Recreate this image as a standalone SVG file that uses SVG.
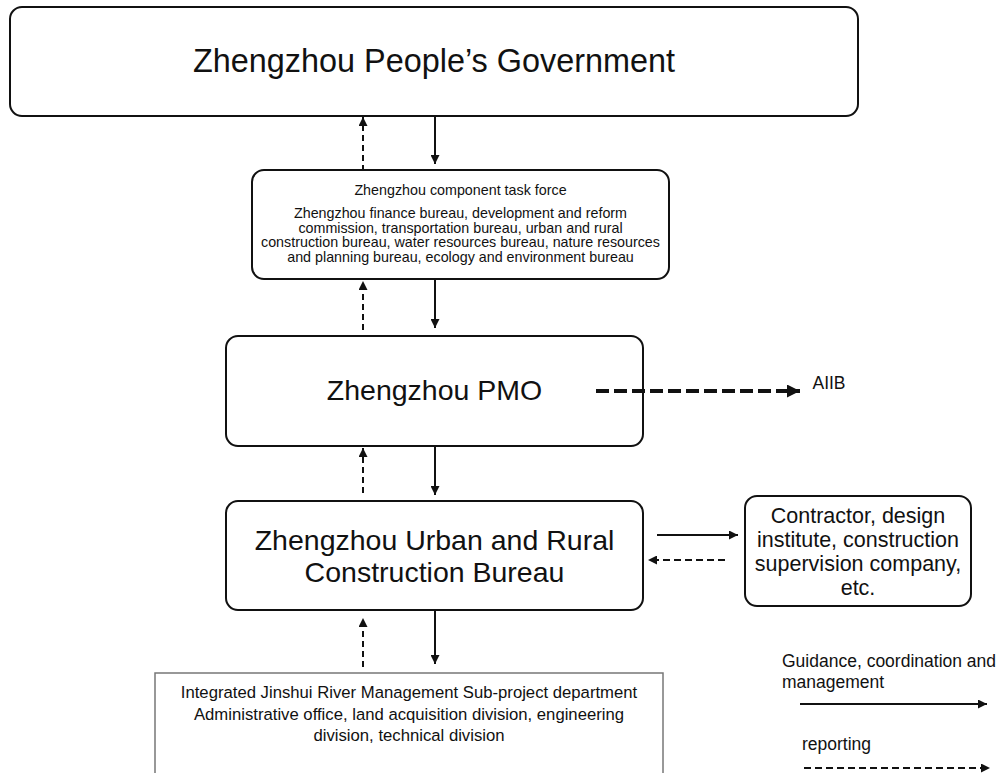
<svg xmlns="http://www.w3.org/2000/svg" width="1002" height="773" viewBox="0 0 1002 773">
<defs>
<style>
.box{fill:#fff;stroke:#111;stroke-width:2}
.sq{fill:#fff;stroke:#777;stroke-width:1.5}
text{font-family:"Liberation Sans",Arial,sans-serif;fill:#111;text-anchor:middle}
text.start{text-anchor:start}
.solid{stroke:#111;stroke-width:2;fill:none}
.dash{stroke:#111;stroke-width:2;fill:none;stroke-dasharray:6 4}
.hdash{stroke:#111;stroke-width:2;fill:none;stroke-dasharray:7 4}
.big{stroke:#111;stroke-width:4;fill:none;stroke-dasharray:13 5}
</style>
<marker id="ah" viewBox="0 0 10 10" refX="10" refY="5" markerWidth="10" markerHeight="9" markerUnits="userSpaceOnUse" orient="auto"><path d="M0,0 L10,5 L0,10 z" fill="#111"/></marker>
<marker id="ahb" viewBox="0 0 10 10" refX="10" refY="5" markerWidth="15" markerHeight="13" markerUnits="userSpaceOnUse" orient="auto"><path d="M0,0 L10,5 L0,10 z" fill="#111"/></marker>
</defs>
<rect width="1002" height="773" fill="#fff"/>

<g id="gov">
<rect class="box" x="10" y="7" width="848" height="109" rx="12"/>
<text x="434" y="72" font-size="32.4">Zhengzhou People’s Government</text>
</g>

<g id="taskforce">
<rect class="box" x="252" y="170" width="417" height="109" rx="12"/>
<text x="460.5" y="195" font-size="14.3">Zhengzhou component task force</text>
<text font-size="14.3"><tspan x="460.5" y="218">Zhengzhou finance bureau, development and reform</tspan><tspan x="460.5" y="232.5">commission, transportation bureau, urban and rural</tspan><tspan x="460.5" y="247">construction bureau, water resources bureau, nature resources</tspan><tspan x="460.5" y="261.5">and planning bureau, ecology and environment bureau</tspan></text>
</g>

<g id="pmo">
<rect class="box" x="226" y="336" width="417" height="110" rx="12"/>
<text x="434.5" y="400" font-size="28.5">Zhengzhou PMO</text>
</g>

<g id="bureau">
<rect class="box" x="226" y="501" width="417" height="109" rx="12"/>
<text font-size="28.5"><tspan x="434.5" y="550">Zhengzhou Urban and Rural</tspan><tspan x="434.5" y="582">Construction Bureau</tspan></text>
</g>

<g id="contractor">
<rect class="box" x="745" y="496" width="226" height="110" rx="12"/>
<text font-size="21.5"><tspan x="858" y="523">Contractor, design</tspan><tspan x="858" y="547">institute, construction</tspan><tspan x="858" y="571">supervision company,</tspan><tspan x="858" y="595">etc.</tspan></text>
</g>

<g id="subproject">
<rect class="sq" x="155" y="673" width="508" height="110"/>
<text font-size="16.7"><tspan x="409" y="698">Integrated Jinshui River Management Sub-project department</tspan><tspan x="409" y="720">Administrative office, land acquisition division, engineering</tspan><tspan x="409" y="741">division, technical division</tspan></text>
</g>

<g id="aiib">
<text x="829" y="389" font-size="17.5">AIIB</text>
</g>

<g id="legend">
<text class="start" x="782" y="667" font-size="17.5">Guidance, coordination and</text>
<text class="start" x="782" y="688" font-size="17.5">management</text>
<text class="start" x="802" y="750" font-size="17.5">reporting</text>
<line class="solid" x1="800" y1="704" x2="987" y2="704" marker-end="url(#ah)"/>
<line class="hdash" x1="804" y1="768" x2="990" y2="768" marker-end="url(#ah)"/>
</g>

<g id="connectors">
<line class="solid" x1="435" y1="116" x2="435" y2="164" marker-end="url(#ah)"/>
<line class="dash" x1="363" y1="171" x2="363" y2="117" marker-end="url(#ah)"/>
<line class="solid" x1="435" y1="279" x2="435" y2="328" marker-end="url(#ah)"/>
<line class="dash" x1="363" y1="330" x2="363" y2="281" marker-end="url(#ah)"/>
<line class="solid" x1="435" y1="446" x2="435" y2="495" marker-end="url(#ah)"/>
<line class="dash" x1="363" y1="493" x2="363" y2="448" marker-end="url(#ah)"/>
<line class="solid" x1="435" y1="610" x2="435" y2="664" marker-end="url(#ah)"/>
<line class="dash" x1="363" y1="667" x2="363" y2="618" marker-end="url(#ah)"/>
<line class="solid" x1="657" y1="535" x2="738" y2="535" marker-end="url(#ah)"/>
<line class="hdash" x1="725" y1="560" x2="648" y2="560" marker-end="url(#ah)"/>
<line class="big" x1="596" y1="391" x2="800" y2="391" marker-end="url(#ahb)"/>
</g>
</svg>
